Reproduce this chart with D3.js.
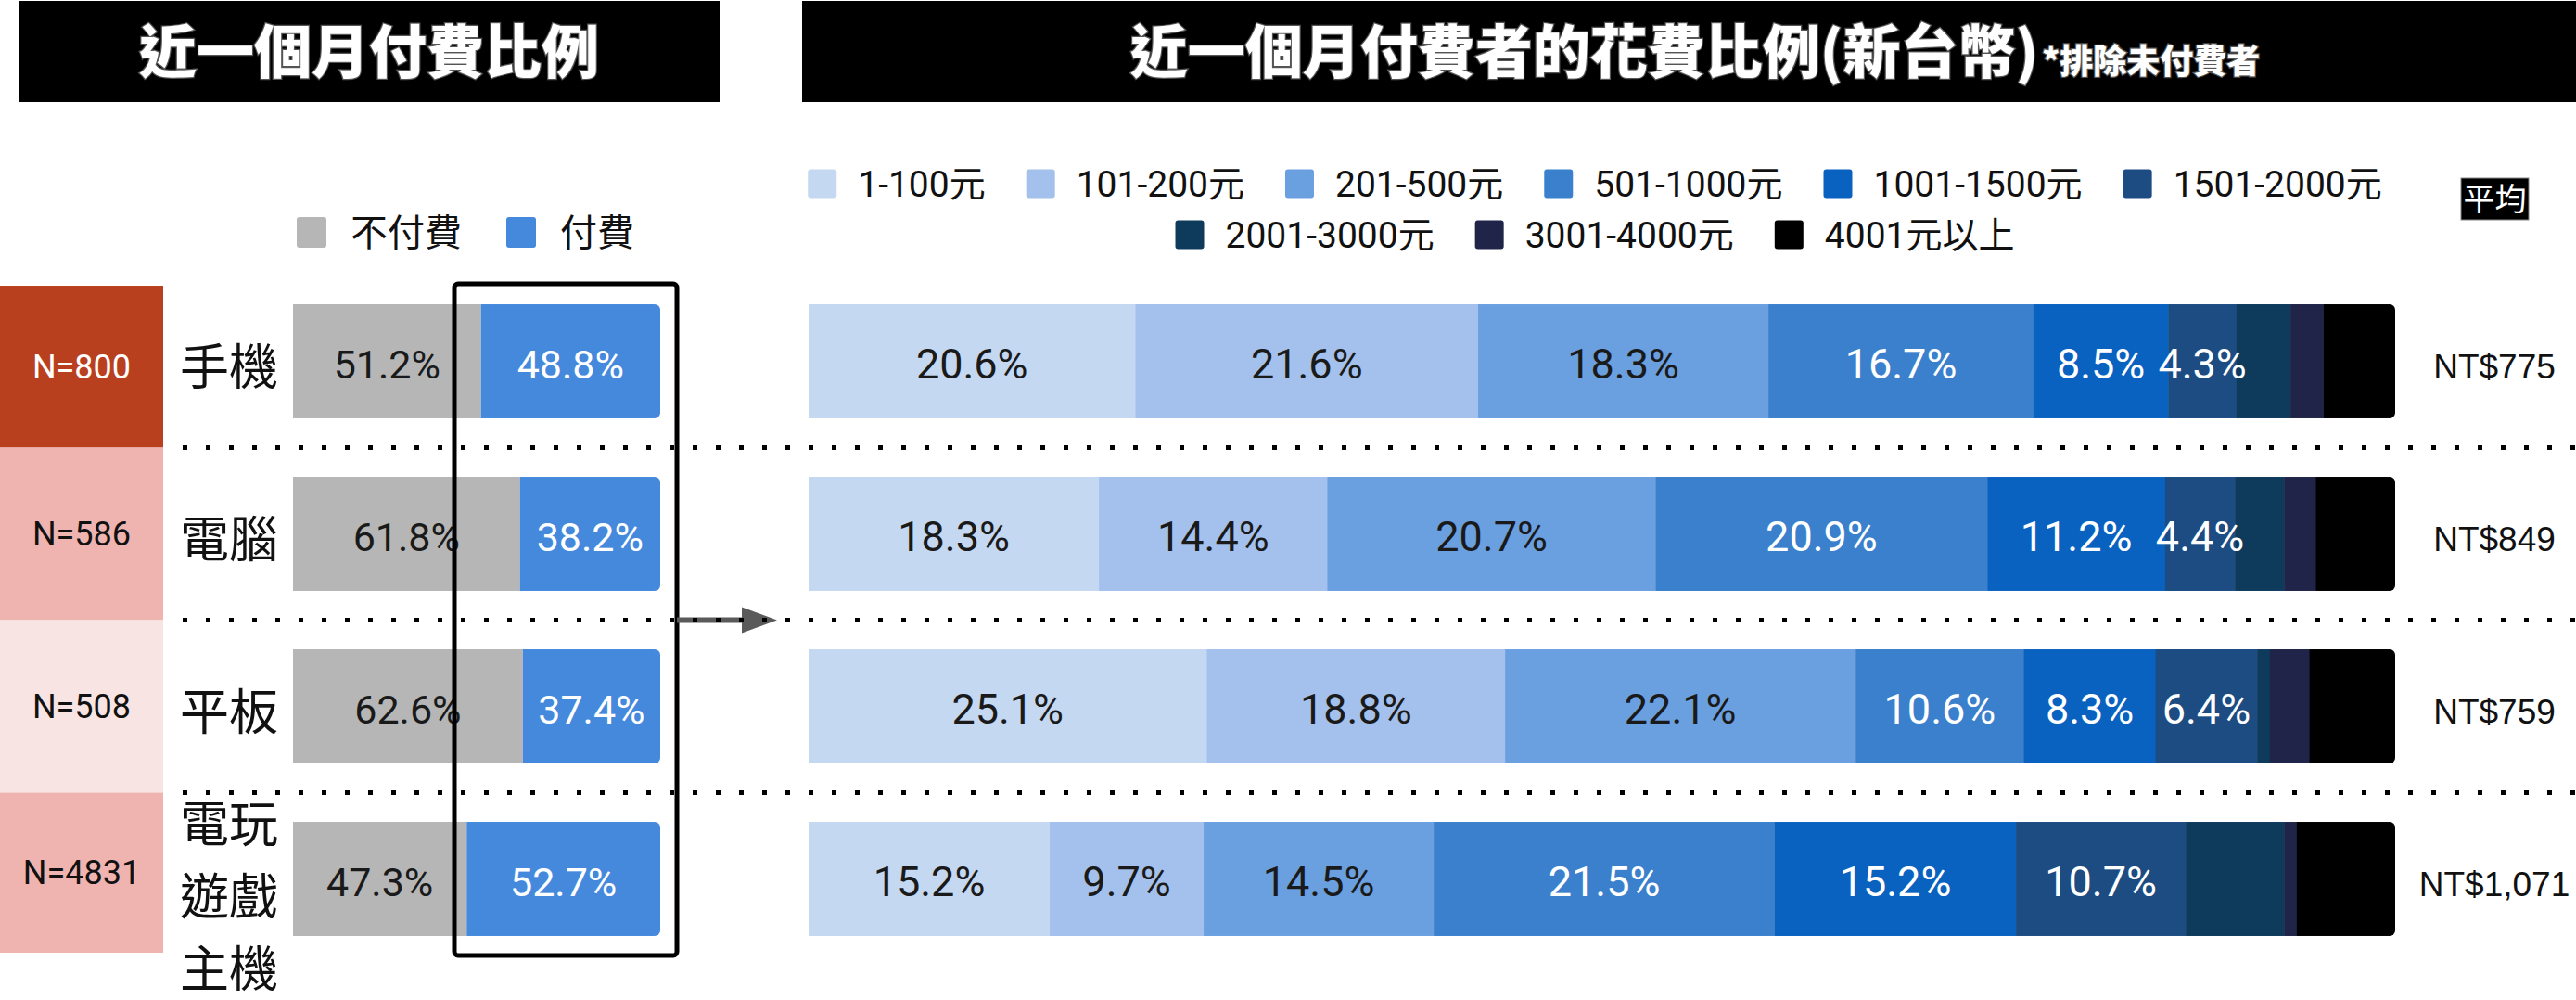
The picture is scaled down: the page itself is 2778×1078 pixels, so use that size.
<!DOCTYPE html>
<html>
<head>
<meta charset="utf-8">
<script src="https://cdn.jsdelivr.net/npm/d3@7"></script>
<style>
  html, body { margin: 0; padding: 0; background: #ffffff; }
  svg { display: block; }
</style>
</head>
<body>
<div id="chart"></div>
<script>
// ---------------- DATA ----------------
const devices = ["手機", "電腦", "平板", "電玩遊戲主機"];
const deviceLabelLines = [["手機"], ["電腦"], ["平板"], ["電玩", "遊戲", "主機"]];
const sampleSizes = [800, 586, 508, 4831];
const payStatus = ["不付費", "付費"];
const notPaidPct = [51.2, 61.8, 62.6, 47.3];
const paidPct = [48.8, 38.2, 37.4, 52.7];

const spendBins = ["1-100元", "101-200元", "201-500元", "501-1000元", "1001-1500元",
                   "1501-2000元", "2001-3000元", "3001-4000元", "4001元以上"];
const spendPhone   = [20.6, 21.6, 18.3, 16.7, 8.5, 4.3, 3.4, 2.1, 4.5];
const spendPC      = [18.3, 14.4, 20.7, 20.9, 11.2, 4.4, 3.1, 2.0, 5.0];
const spendTablet  = [25.1, 18.8, 22.1, 10.6, 8.3, 6.4, 0.8, 2.5, 5.4];
const spendConsole = [15.2, 9.7, 14.5, 21.5, 15.2, 10.7, 6.2, 0.8, 6.2];
const averageSpend = ["NT$775", "NT$849", "NT$759", "NT$1,071"];
const labeledBinCount = 6; // only the first six bins carry value labels

const leftTitle = "近一個月付費比例";
const rightTitle = "近一個月付費者的花費比例(新台幣)";
const rightTitleNote = "*排除未付費者";
const averageHeader = "平均";

// ---------------- STYLE ----------------
const W = 2778, H = 1078;
const latin = "Roboto, 'Noto Sans CJK TC', sans-serif";
const cjk = "'Noto Sans CJK TC', 'Noto Sans CJK SC', sans-serif";
const payColors = ["#b6b6b6", "#4589dd"];
const binColors = ["#c5d8f2", "#a3c1ec", "#6a9fe0", "#3b80cc", "#0a62c0",
                   "#1d4c82", "#0e3a5c", "#1f2448", "#000000"];
const nBoxColors = ["#b9401f", "#efb4b0", "#f9e4e4", "#efb4b0"];
const nTextColors = ["#ffffff", "#111111", "#111111", "#111111"];

const spendRows = [spendPhone, spendPC, spendTablet, spendConsole];

const svg = d3.select("#chart").append("svg")
  .attr("width", W).attr("height", H)
  .attr("viewBox", `0 0 ${W} ${H}`);

svg.append("rect").attr("width", W).attr("height", H).attr("fill", "#fff");

// ---------------- SCALES ----------------
const y = d3.scaleBand().domain(devices)
  .range([296.5, 1040.5]).paddingInner(0.339).paddingOuter(0.1695);
const bw = y.bandwidth();
const xL = d3.scaleLinear().domain([0, 100]).range([316, 712]);
const xR = d3.scaleLinear().domain([0, 100]).range([872, 2583]);
const fmt = d => d3.format(".1f")(d) + "%";

// separators (midpoints between rows)
const seps = devices.slice(1).map((d, i) => (y(devices[i]) + bw + y(d)) / 2);

// ---------------- TITLES ----------------
svg.append("rect").attr("x", 21).attr("y", 1).attr("width", 755).attr("height", 109).attr("fill", "#000");
svg.append("rect").attr("x", 865).attr("y", 1).attr("width", W - 865).attr("height", 109).attr("fill", "#000");

svg.append("text").attr("x", 398).attr("y", 79)
  .attr("text-anchor", "middle")
  .attr("font-family", cjk).attr("font-weight", 900).attr("font-size", 62)
  .attr("fill", "#fff").attr("stroke", "#555").attr("stroke-width", 2.5)
  .attr("paint-order", "stroke")
  .text(leftTitle);

const rt = svg.append("text").attr("x", 1828).attr("y", 79)
  .attr("text-anchor", "middle")
  .attr("font-family", cjk).attr("font-weight", 900)
  .attr("fill", "#fff").attr("stroke", "#555").attr("stroke-width", 2.5)
  .attr("paint-order", "stroke");
rt.append("tspan").attr("font-size", 62).text(rightTitle);
rt.append("tspan").attr("font-size", 36).attr("dx", 4).text(rightTitleNote);

// ---------------- LEFT LEGEND ----------------
(function () {
  const g = svg.append("g");
  let x = 320;
  payStatus.forEach((s, i) => {
    g.append("rect").attr("x", x).attr("y", 234).attr("width", 32).attr("height", 33)
      .attr("rx", 3).attr("fill", payColors[i]);
    const t = g.append("text").attr("x", x + 58).attr("y", 250).attr("dy", "0.38em")
      .attr("font-family", cjk).attr("font-size", 40).attr("fill", "#111").text(s);
    x = x + 58 + t.node().getComputedTextLength() + 48;
  });
})();

// ---------------- RIGHT LEGEND ----------------
(function () {
  const rows = [spendBins.slice(0, 6), spendBins.slice(6)];
  const rowY = [198, 253];
  const fs = 39, sq = 31, gapSq = 23, gapItem = 44;
  let idx = 0;
  rows.forEach((items, r) => {
    const g = svg.append("g");
    let x = 0;
    items.forEach(label => {
      const i = idx++;
      g.append("rect").attr("x", x).attr("y", rowY[r] - sq / 2).attr("width", sq).attr("height", sq)
        .attr("rx", 3).attr("fill", binColors[i]);
      const t = g.append("text").attr("x", x + sq + gapSq).attr("y", rowY[r]).attr("dy", "0.36em")
        .attr("font-family", latin).attr("font-size", fs).attr("fill", "#111").text(label);
      x = x + sq + gapSq + t.node().getComputedTextLength() + gapItem;
    });
    const total = x - gapItem;
    g.attr("transform", `translate(${1720 - total / 2},0)`);
  });
  // 平均 header
  svg.append("rect").attr("x", 2654).attr("y", 192).attr("width", 73).attr("height", 45)
    .attr("fill", "#000").attr("stroke", "#888").attr("stroke-width", 1);
  svg.append("text").attr("x", 2690.5).attr("y", 214.5).attr("dy", "0.38em")
    .attr("text-anchor", "middle").attr("font-family", cjk).attr("font-size", 34)
    .attr("fill", "#fff").text(averageHeader);
})();

// ---------------- N BOXES ----------------
const nTop = [y(devices[0]) - 20, ...seps];
const nBot = [...seps, y(devices[3]) + bw + 18];
devices.forEach((d, i) => {
  svg.append("rect").attr("x", 0).attr("y", nTop[i]).attr("width", 176)
    .attr("height", nBot[i] - nTop[i]).attr("fill", nBoxColors[i]);
  svg.append("text").attr("x", 88).attr("y", (nTop[i] + nBot[i]) / 2).attr("dy", "0.35em")
    .attr("text-anchor", "middle").attr("font-family", latin).attr("font-size", 36)
    .attr("fill", nTextColors[i]).text("N=" + sampleSizes[i]);
});

// ---------------- CATEGORY LABELS ----------------
devices.forEach((d, i) => {
  const lines = deviceLabelLines[i];
  const cy = y(d) + bw / 2;
  const base = lines.length === 1 ? cy + 5 : cy + 18;
  lines.forEach((ln, j) => {
    svg.append("text").attr("x", 194)
      .attr("y", base + (j - (lines.length - 1) / 2) * 78).attr("dy", "0.38em")
      .attr("font-family", cjk).attr("font-size", 53).attr("fill", "#111").text(ln);
  });
});

// ---------------- DEFS (rounded right ends) ----------------
const defs = svg.append("defs");
function clipFor(id, x0, x1, yTop) {
  defs.append("clipPath").attr("id", id).append("rect")
    .attr("x", x0 - 10).attr("y", yTop).attr("width", x1 - x0 + 10).attr("height", bw).attr("rx", 6);
  return `url(#${id})`;
}

// ---------------- LEFT BARS ----------------
devices.forEach((d, i) => {
  const g = svg.append("g").attr("clip-path", clipFor("cl" + i, xL(0), xL(100), y(d)));
  const vals = [notPaidPct[i], paidPct[i]];
  let acc = 0;
  vals.forEach((v, k) => {
    g.append("rect").attr("x", xL(acc)).attr("y", y(d))
      .attr("width", xL(acc + v) - xL(acc)).attr("height", bw).attr("fill", payColors[k]);
    acc += v;
  });
  acc = 0;
  vals.forEach((v, k) => {
    svg.append("text").attr("x", (xL(acc) + xL(acc + v)) / 2).attr("y", y(d) + bw / 2 + 3)
      .attr("dy", "0.35em").attr("text-anchor", "middle")
      .attr("font-family", latin).attr("font-size", 43)
      .attr("fill", k === 0 ? "#1a1a1a" : "#ffffff").text(fmt(v));
    acc += v;
  });
});

// ---------------- RIGHT BARS ----------------
devices.forEach((d, i) => {
  const vals = spendRows[i];
  const total = d3.sum(vals);
  const g = svg.append("g").attr("clip-path", clipFor("cr" + i, xR(0), xR(100), y(d)));
  let acc = 0;
  vals.forEach((v, k) => {
    g.append("rect").attr("x", xR(acc / total * 100)).attr("y", y(d))
      .attr("width", xR((acc + v) / total * 100) - xR(acc / total * 100) + 0.5)
      .attr("height", bw).attr("fill", binColors[k]);
    acc += v;
  });
  acc = 0;
  vals.forEach((v, k) => {
    if (k < labeledBinCount) {
      svg.append("text")
        .attr("x", (xR(acc / total * 100) + xR((acc + v) / total * 100)) / 2)
        .attr("y", y(d) + bw / 2 + 3).attr("dy", "0.35em").attr("text-anchor", "middle")
        .attr("font-family", latin).attr("font-size", 45)
        .attr("fill", k < 3 ? "#1a1a1a" : "#ffffff").text(fmt(v));
    }
    acc += v;
  });
  svg.append("text").attr("x", 2690).attr("y", y(d) + bw / 2 + 6).attr("dy", "0.35em")
    .attr("text-anchor", "middle").attr("font-family", "'Liberation Sans', Arial, sans-serif")
    .attr("font-size", 37).attr("fill", "#111").text(averageSpend[i]);
});

// ---------------- FRAME + ARROW ----------------
svg.append("rect").attr("x", 490).attr("y", 306).attr("width", 240).attr("height", 724)
  .attr("rx", 4).attr("fill", "none").attr("stroke", "#000").attr("stroke-width", 5);

svg.append("line").attr("x1", 730).attr("x2", 802).attr("y1", seps[1]).attr("y2", seps[1])
  .attr("stroke", "#5a5a5a").attr("stroke-width", 6);
svg.append("path")
  .attr("d", `M800,${seps[1] - 14} L838,${seps[1]} L800,${seps[1] + 14} Z`)
  .attr("fill", "#5a5a5a");

// ---------------- DOTTED SEPARATORS ----------------
seps.forEach(s => {
  svg.append("line").attr("x1", 197).attr("x2", W).attr("y1", s).attr("y2", s)
    .attr("stroke", "#000").attr("stroke-width", 5).attr("stroke-dasharray", "5,20");
});
</script>
</body>
</html>
